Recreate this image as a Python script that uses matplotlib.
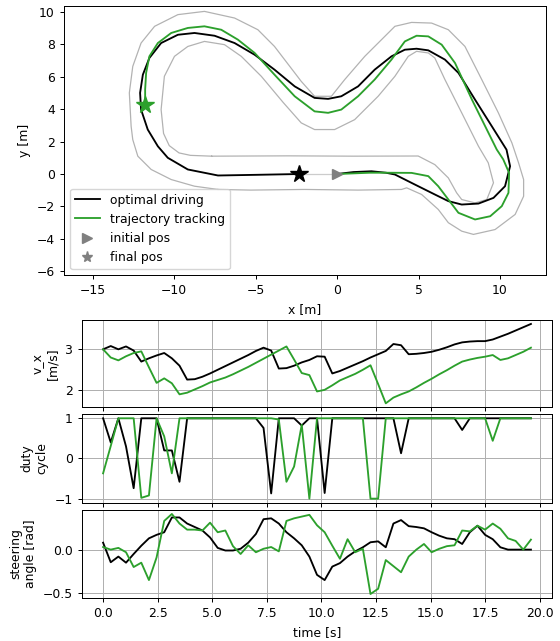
import numpy as np
import matplotlib
matplotlib.use("Agg")
import matplotlib.pyplot as plt
from matplotlib.lines import Line2D

# =========================
# TRACK + TRAJECTORIES (x, y in m)
# =========================

outer_x = [-7.31, -5.3, -2.0, 1.3, 3.96, 4.27, 5.19, 6.21, 6.83, 7.65, 8.37, 9.70, 10.93, 11.45,
           11.45, 11.14, 10.73, 9.90, 8.88, 7.85, 6.83, 5.80, 4.57, 3.55, 2.73, 1.70, 0.47,
           -0.35, -1.38, -2.20, -3.84, -4.86, -6.29, -8.14, -9.77, -11.2, -12.03, -12.54,
           -12.75, -12.64, -12.54, -12.23, -11.41, -10.18, -8.75, -7.31]
outer_y = [-0.95, -0.99, -0.95, -0.99, -0.95, -0.85, -1.26, -2.18, -3.00, -3.52, -3.72, -3.42, -2.49, -1.37,
           -0.34, 0.69, 1.92, 3.77, 5.82, 7.86, 8.89, 9.30, 9.34, 9.10, 8.28, 7.25, 5.82,
           4.79, 4.79, 5.71, 7.86, 8.89, 9.61, 10.02, 9.82, 9.10, 8.07, 6.63,
           5.00, 2.94, 2.12, 1.10, 0.28, -0.34, -0.75, -0.95]

inner_x = [-7.7, -3.0, 1.0, 4.98, 6.0, 6.83, 7.34, 7.65, 8.47, 9.19, 9.60, 9.28, 8.68, 7.65, 6.62,
           6.0, 5.6, 4.88, 4.37, 3.55, 2.52, 1.08, -0.15, -1.38, -2.2, -3.3, -4.65, -5.88, -6.91,
           -8.14, -9.16, -9.98, -10.6, -10.8, -10.65, -10.3, -9.7, -9.0, -7.7]
inner_y = [1.10, 1.12, 1.10, 1.11, 0.58, -0.24, -1.16, -1.57, -1.78, -1.57, -0.54, 0.69, 1.71, 3.77, 5.82,
           7.15, 7.46, 7.56, 7.25, 6.02, 4.79, 3.35, 2.74, 2.74, 3.15, 4.4, 6.02, 7.25, 7.97,
           8.17, 7.86, 7.25, 6.02, 3.97, 2.5, 1.75, 1.3, 1.15, 1.10]

opt_x = [0.0, 1.0, 2.11, 3.0, 3.55, 4.78, 6.0, 6.83, 7.65, 8.68, 9.6, 10.31, 10.62, 10.4, 9.5,
         8.47, 7.45, 6.62, 5.6, 4.88, 4.16, 3.34, 2.31, 1.29, 0.26, -0.55, -1.38, -2.6, -3.84,
         -5.06, -6.29, -7.52, -8.75, -9.77, -10.8, -11.52, -11.92, -12.09, -12.03, -11.62,
         -11.0, -10.39, -9.16, -7.31, -5.0, -2.35]
opt_y = [0.0, 0.12, 0.17, 0.08, -0.03, -0.65, -1.26, -1.67, -1.88, -1.82, -1.47, -0.75, 0.48, 1.5, 2.94,
         4.58, 6.23, 7.05, 7.62, 7.72, 7.66, 7.25, 6.43, 5.4, 4.79, 4.63, 4.69, 5.4, 6.43,
         7.35, 8.07, 8.52, 8.69, 8.58, 8.07, 7.15, 6.12, 5.0, 3.97, 2.74,
         1.71, 1.0, 0.28, -0.09, -0.05, 0.0]

trk_x = [0.0, 2.0, 3.0, 4.57, 5.6, 6.21, 6.83, 7.45, 8.47, 9.4, 10.11, 10.52, 10.56, 10.2, 9.8,
         9.29, 8.28, 7.24, 6.42, 5.6, 4.88, 4.16, 3.34, 2.31, 1.29, 0.26, -0.55, -1.38, -2.6,
         -3.84, -5.06, -6.09, -7.11, -8.14, -9.16, -10.18, -11.0, -11.52, -11.72, -11.78, -11.78]
trk_y = [0.0, 0.08, 0.08, 0.07, -0.13, -0.75, -1.57, -2.39, -2.8, -2.6, -1.98, -1.16, 0.07, 0.9, 1.51,
         2.54, 4.58, 6.84, 7.97, 8.48, 8.52, 8.17, 7.05, 5.82, 4.79, 3.97, 3.77, 3.86, 4.79,
         6.12, 7.46, 8.28, 8.89, 9.1, 9.0, 8.69, 8.07, 7.25, 6.23, 5.2, 4.28]

# =========================
# TIME SERIES (dt = 0.35 s)
# =========================

time = np.linspace(0, 19.6, 57)

vx_opt = [3.00, 3.08, 3.00, 3.07, 2.97, 2.70, 2.78, 2.85, 2.91, 2.78, 2.60, 2.26, 2.27, 2.33, 2.41,
          2.50, 2.59, 2.68, 2.77, 2.86, 2.96, 3.04, 2.97, 2.53, 2.54, 2.60, 2.68, 2.74, 2.83,
          2.82, 2.41, 2.47, 2.55, 2.63, 2.71, 2.80, 2.88, 2.96, 3.13, 3.10, 2.88, 2.89, 2.91,
          2.94, 2.99, 3.05, 3.12, 3.17, 3.19, 3.20, 3.20, 3.24, 3.31, 3.38, 3.46, 3.54, 3.62]
vx_trk = [3.00, 2.80, 2.73, 2.83, 2.91, 2.95, 2.56, 2.18, 2.29, 2.17, 1.90, 1.94, 2.02, 2.10, 2.19,
          2.25, 2.31, 2.39, 2.48, 2.57, 2.67, 2.77, 2.87, 2.97, 3.07, 2.75, 2.42, 2.37, 1.97,
          2.01, 2.12, 2.24, 2.32, 2.40, 2.50, 2.61, 2.15, 1.68, 1.82, 1.90, 1.97, 2.07, 2.18,
          2.28, 2.39, 2.49, 2.60, 2.70, 2.75, 2.79, 2.82, 2.86, 2.74, 2.78, 2.86, 2.94, 3.04]

duty_opt = [1.0, 0.40, 1.0, 0.30, -0.74, 1.0, 1.0, 1.0, 0.20, 0.20, -0.58, 1.0, 1.0, 1.0, 1.0,
            1.0, 1.0, 1.0, 1.0, 1.0, 1.0, 0.76, -0.87, 1.0, 1.0, 1.0, 0.82, 1.0, 1.0,
            -0.86, 1.0, 1.0, 1.0, 1.0, 1.0, 1.0, 1.0, 1.0, 1.0, 0.13, 1.0, 1.0, 1.0,
            1.0, 1.0, 1.0, 1.0, 0.71, 1.0, 1.0, 1.0, 1.0, 1.0, 1.0, 1.0, 1.0, 1.0]
duty_trk = [-0.37, 0.31, 1.0, 1.0, 1.0, -0.98, -0.92, 1.0, 0.55, -0.37, 1.0, 1.0, 1.0, 1.0, 1.0,
            1.0, 1.0, 1.0, 1.0, 1.0, 1.0, 1.0, 1.0, 0.97, -0.58, -0.20, 0.84, -1.0, 1.0,
            1.0, 1.0, 1.0, 1.0, 1.0, 1.0, -1.0, -1.0, 1.0, 1.0, 1.0, 1.0, 1.0, 1.0,
            1.0, 1.0, 1.0, 1.0, 1.0, 1.0, 1.0, 1.0, 0.44, 1.0, 1.0, 1.0, 1.0, 1.0]

steer_opt = [0.08, -0.145, -0.08, -0.15, -0.05, 0.045, 0.13, 0.17, 0.20, 0.37, 0.37, 0.30, 0.26, 0.22, 0.14,
             0.02, -0.01, -0.01, 0.01, 0.08, 0.18, 0.35, 0.36, 0.30, 0.20, 0.13, 0.05, -0.08, -0.29,
             -0.35, -0.195, -0.155, -0.08, -0.02, 0.027, 0.085, 0.095, 0.027, 0.30, 0.34, 0.27, 0.26, 0.245,
             0.20, 0.16, 0.13, 0.12, 0.065, 0.20, 0.275, 0.17, 0.12, 0.027, 0.0, 0.0, 0.0, 0.0]
steer_trk = [0.03, 0.0, 0.02, -0.03, -0.20, -0.15, -0.35, -0.09, 0.33, 0.41, 0.30, 0.23, 0.23, 0.22, 0.31,
             0.20, 0.22, 0.04, -0.05, 0.05, -0.03, 0.01, 0.03, -0.02, 0.33, 0.36, 0.38, 0.40, 0.28,
             0.20, 0.045, -0.105, 0.12, -0.03, 0.01, -0.51, -0.45, -0.12, -0.19, -0.26, -0.08, 0.0, 0.065,
             -0.03, 0.01, 0.04, 0.05, 0.22, 0.21, 0.275, 0.23, 0.30, 0.24, 0.13, 0.10, 0.0, 0.115]

green = "tab:green"

# reference looks like a downscaled figure, so shrink everything a bit
s = 0.89
plt.rcParams.update({
    "font.size": 10 * s,
    "lines.linewidth": 1.5 * s,
    "axes.linewidth": 0.8 * s,
    "grid.linewidth": 0.8 * s,
    "xtick.major.size": 3.5 * s,
    "ytick.major.size": 3.5 * s,
    "xtick.major.width": 0.8 * s,
    "ytick.major.width": 0.8 * s,
})

fig = plt.figure(figsize=(5.6, 6.41), dpi=100)

# =========================
# TOP: XY PLOT
# =========================

ax = fig.add_axes([0.1143, 0.5705, 0.86, 0.4206])

ax.plot(outer_x, outer_y, color="gray", alpha=0.6, lw=0.9)
ax.plot(inner_x, inner_y, color="gray", alpha=0.6, lw=0.9)
ax.plot([opt_x[-1], opt_x[0]], [opt_y[-1], opt_y[0]], color="gray", alpha=0.4, lw=0.9)

ax.plot(opt_x, opt_y, color="black")
ax.plot(trk_x, trk_y, color=green)

ax.plot(opt_x[0], opt_y[0], ">", color="gray", ms=7)
ax.plot(opt_x[-1], opt_y[-1], "*", color="black", ms=13)
ax.plot(trk_x[-1], trk_y[-1], "*", color=green, ms=13)

ax.set_xlim(-16.76, 12.8)
ax.set_ylim(-6.24, 10.37)
ax.set_yticks(np.arange(-6, 11, 2))
ax.set_xlabel("x [m]")
ax.set_ylabel("y [m]")

handles = [
    Line2D([], [], color="black"),
    Line2D([], [], color=green),
    Line2D([], [], marker=">", ls="none", color="gray", ms=7),
    Line2D([], [], marker="*", ls="none", color="gray", ms=8),
]
ax.legend(handles, ["optimal driving", "trajectory tracking", "initial pos", "final pos"],
          loc="lower left")

# =========================
# BOTTOM: TIME SERIES
# =========================

left = 0.1459
width = 0.8404
ax1 = fig.add_axes([left, 0.3646, width, 0.1362])
ax2 = fig.add_axes([left, 0.2158, width, 0.1379], sharex=ax1)
ax3 = fig.add_axes([left, 0.0671, width, 0.1373], sharex=ax1)

ax1.plot(time, vx_opt, color="black")
ax1.plot(time, vx_trk, color=green)
ax1.set_yticks([2, 3])
ax1.set_ylabel("v_x\n[m/s]")

ax2.plot(time, duty_opt, color="black")
ax2.plot(time, duty_trk, color=green)
ax2.set_yticks([-1, 0, 1])
ax2.set_ylabel("duty\ncycle")

ax3.plot(time, steer_opt, color="black")
ax3.plot(time, steer_trk, color=green)
ax3.set_yticks([-0.5, 0.0])
ax3.set_ylabel("steering\nangle [rad]")
ax3.set_xlabel("time [s]")

for a in (ax1, ax2, ax3):
    a.grid(True)
for a in (ax1, ax2):
    a.tick_params(labelbottom=False)

plt.savefig("out.png", dpi=100)
